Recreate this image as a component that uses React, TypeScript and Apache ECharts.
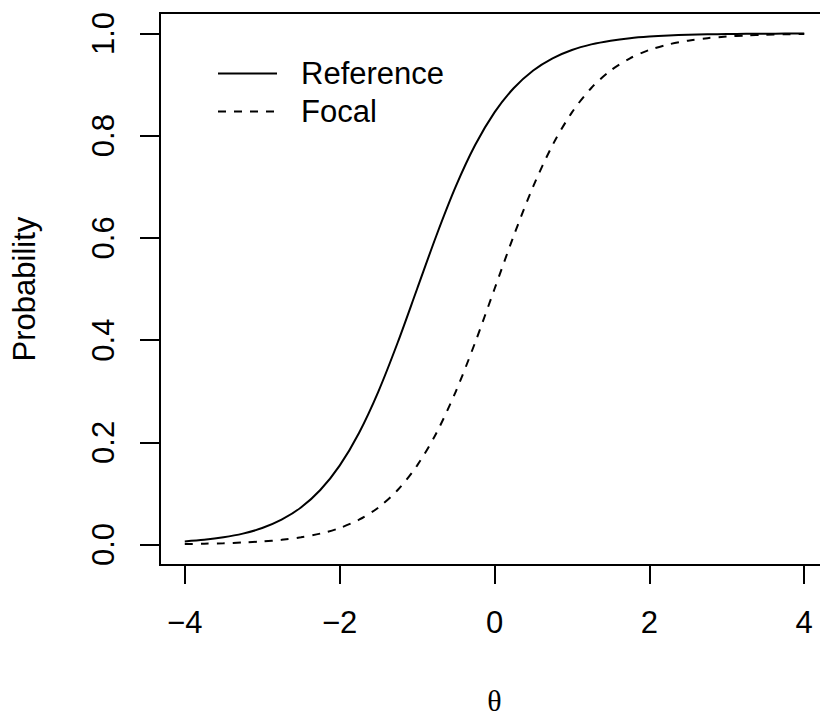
import React, { useEffect, useRef } from "react";
import * as echarts from "echarts";

const theta = [
  -4, -3.75, -3.5, -3.25, -3, -2.75, -2.5, -2.25, -2, -1.75, -1.5, -1.25, -1, -0.75, -0.5, -0.25,
  0, 0.25, 0.5, 0.75, 1, 1.25, 1.5, 1.75, 2, 2.25, 2.5, 2.75, 3, 3.25, 3.5, 3.75, 4,
];
const referenceProb = [
  0.0061, 0.0092, 0.0141, 0.0214, 0.0323, 0.0486, 0.0724, 0.1067, 0.1545, 0.2184, 0.2994, 0.3953,
  0.5, 0.6047, 0.7006, 0.7816, 0.8455, 0.8933, 0.9276, 0.9514, 0.9677, 0.9786, 0.9859, 0.9908,
  0.9939, 0.996, 0.9974, 0.9983, 0.9989, 0.9993, 0.9995, 0.9997, 0.9998,
];
const focalProb = [
  0.0011, 0.0017, 0.0026, 0.004, 0.0061, 0.0092, 0.0141, 0.0214, 0.0323, 0.0486, 0.0724, 0.1067,
  0.1545, 0.2184, 0.2994, 0.3953, 0.5, 0.6047, 0.7006, 0.7816, 0.8455, 0.8933, 0.9276, 0.9514,
  0.9677, 0.9786, 0.9859, 0.9908, 0.9939, 0.996, 0.9974, 0.9983, 0.9989,
];
const xTicks = [-4, -2, 0, 2, 4];
const yTicks = [0, 0.2, 0.4, 0.6, 0.8, 1.0];

const FONT = "'Liberation Sans', Arial, sans-serif";

export default function App() {
  const ref = useRef<HTMLDivElement>(null);
  useEffect(() => {
    if (!ref.current) return;
    const chart = echarts.init(ref.current, undefined, { renderer: "svg" });
    const pair = (ys: number[]) => theta.map((t, i) => [t, ys[i]]);
    chart.setOption({
      animation: false,
      backgroundColor: "#fff",
      grid: {
        left: 160,
        top: 13,
        width: 669,
        height: 554,
        show: true,
        borderColor: "#000",
        borderWidth: 2,
        backgroundColor: "transparent",
      },
      legend: {
        orient: "vertical",
        left: 212,
        top: 53,
        itemWidth: 59,
        itemHeight: 14,
        itemGap: 7,
        itemStyle: { opacity: 0 },
        textStyle: {
          fontFamily: FONT,
          fontSize: 31,
          lineHeight: 31,
          color: "#000",
          padding: [0, 0, 0, 19],
        },
        data: ["Reference", "Focal"],
      },
      xAxis: {
        type: "value",
        min: -4.32,
        max: 4.32,
        name: "θ",
        nameLocation: "middle",
        nameGap: 120,
        nameTextStyle: { fontFamily: "'Liberation Serif', 'DejaVu Serif', serif", fontSize: 30, color: "#000" },
        axisLine: { show: false, onZero: false },
        splitLine: { show: false },
        axisTick: { show: true, length: 19, lineStyle: { color: "#000", width: 2 }, customValues: xTicks },
        axisLabel: {
          customValues: xTicks,
          margin: 42,
          fontFamily: FONT,
          fontSize: 31,
          color: "#000",
          formatter: (v: number) => (v < 0 ? "\u2212" + Math.abs(v) : String(v)),
        },
      },
      yAxis: {
        type: "value",
        min: -0.04,
        max: 1.04,
        name: "Probability",
        nameLocation: "middle",
        nameRotate: 90,
        nameGap: 120,
        nameTextStyle: { fontFamily: FONT, fontSize: 31, color: "#000" },
        axisLine: { show: false, onZero: false },
        splitLine: { show: false },
        axisTick: { show: true, length: 20, lineStyle: { color: "#000", width: 2 }, customValues: yTicks },
        axisLabel: {
          customValues: yTicks,
          rotate: 90,
          margin: 41,
          fontFamily: FONT,
          fontSize: 31,
          color: "#000",
          formatter: (v: number) => v.toFixed(1),
        },
      },
      series: [
        {
          name: "Reference",
          type: "line",
          data: pair(referenceProb),
          showSymbol: false,
          symbol: "none",
          smooth: 0.3,
          lineStyle: { color: "#000", width: 2, type: "solid" },
          itemStyle: { color: "#000" },
        },
        {
          name: "Focal",
          type: "line",
          data: pair(focalProb),
          showSymbol: false,
          symbol: "none",
          smooth: 0.3,
          lineStyle: { color: "#000", width: 2, type: [8, 8] },
          itemStyle: { color: "#000" },
        },
      ],
    });
    return () => chart.dispose();
  }, []);
  return (
    <div
      ref={ref}
      style={{ position: "fixed", left: 0, top: 0, width: 840, height: 720, background: "#fff" }}
    />
  );
}
